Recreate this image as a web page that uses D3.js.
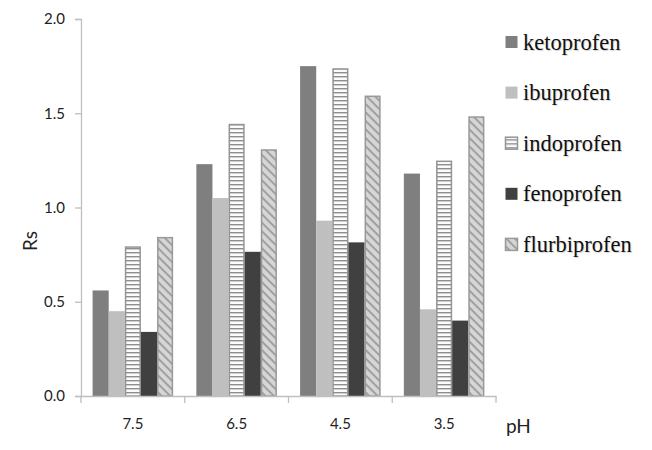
<!DOCTYPE html>
<html lang="en">
<head>
<meta charset="UTF-8">
<script src="https://cdn.jsdelivr.net/npm/d3@7"></script>
<title>Rs vs pH</title>
<style>
  body { margin: 0; background: #fff; }
  .legend-label { font-family: 'Liberation Serif', 'Times New Roman', serif; }
</style>
</head>
<body>
<svg width="652" height="450"></svg>
<script>
const svg = d3.select('svg')

// data
const phLabels = ['7.5', '6.5', '4.5', '3.5']
const seriesNames = ['ketoprofen', 'ibuprofen', 'indoprofen', 'fenoprofen', 'flurbiprofen']
const ketoprofen   = [0.56, 1.23, 1.75, 1.18]
const ibuprofen    = [0.45, 1.05, 0.93, 0.46]
const indoprofen   = [0.79, 1.44, 1.735, 1.245]
const fenoprofen   = [0.34, 0.765, 0.815, 0.40]
const flurbiprofen = [0.84, 1.305, 1.59, 1.48]
const yTicks = [0, 0.5, 1.0, 1.5, 2.0]

const values = [ketoprofen, ibuprofen, indoprofen, fenoprofen, flurbiprofen]

const plot = { left: 81, right: 496, top: 19, bottom: 396 }

// fills per series
const fills = ['#7f7f7f', '#bfbfbf', 'url(#hstripe)', '#404040', 'url(#dstripe)']
const strokes = ['none', 'none', '#949494', 'none', '#999999']

const defs = svg.append('defs')
const hp = defs.append('pattern').attr('id', 'hstripe')
    .attr('patternUnits', 'userSpaceOnUse').attr('width', 8).attr('height', 4)
hp.append('rect').attr('width', 8).attr('height', 4).attr('fill', '#fbfbfb')
hp.append('rect').attr('y', 0).attr('width', 8).attr('height', 1.4).attr('fill', '#8e8e8e')

const dp = defs.append('pattern').attr('id', 'dstripe')
    .attr('patternUnits', 'userSpaceOnUse').attr('width', 6).attr('height', 6)
    .attr('patternTransform', 'rotate(45)')
dp.append('rect').attr('width', 6).attr('height', 6).attr('fill', '#d6d6d6')
dp.append('rect').attr('y', 0).attr('width', 6).attr('height', 1.8).attr('fill', '#9a9a9a')

const x0 = d3.scaleBand().domain(phLabels).range([plot.left, plot.right])
const x1 = d3.scaleBand().domain(seriesNames).range([0, x0.bandwidth()])
    .paddingInner(0).paddingOuter(0.72)
const y = d3.scaleLinear().domain([0, 2]).range([plot.bottom, plot.top])

// bars
const groups = svg.append('g').selectAll('g')
    .data(phLabels)
    .join('g')
    .attr('transform', d => `translate(${x0(d)},0)`)

groups.selectAll('rect')
    .data((d, i) => seriesNames.map((s, j) => ({ s: s, j: j, v: values[j][i] })))
    .join('rect')
    .attr('x', d => x1(d.s) + (d.j == 2 || d.j == 4 ? 0.75 : 0))
    .attr('width', d => x1.bandwidth() - (d.j == 2 || d.j == 4 ? 1.5 : 0))
    .attr('y', d => y(d.v))
    .attr('height', d => y(0) - y(d.v))
    .attr('fill', d => fills[d.j])
    .attr('stroke', d => strokes[d.j])
    .attr('stroke-width', 1.5)

// y axis
const yAxis = svg.append('g')
    .attr('transform', `translate(${plot.left},0)`)
    .call(d3.axisLeft(y).tickValues(yTicks).tickFormat(d3.format('.1f')).tickSize(6).tickPadding(10))
yAxis.select('.domain').attr('stroke', '#bfbfbf').attr('stroke-width', 1.3)
yAxis.selectAll('.tick line').attr('stroke', '#bfbfbf').attr('stroke-width', 1.3)
yAxis.selectAll('.tick text')
    .attr('font-family', 'Lato, "Open Sans", sans-serif')
    .attr('font-size', 15).attr('fill', '#222')

// x axis
const xAxis = svg.append('g')
    .attr('transform', `translate(0,${plot.bottom})`)
    .call(d3.axisBottom(x0).tickSize(0).tickPadding(22))
xAxis.select('.domain').attr('stroke', '#bfbfbf').attr('stroke-width', 1.3)
xAxis.selectAll('.tick text')
    .attr('font-family', 'Lato, "Open Sans", sans-serif')
    .attr('font-size', 15).attr('fill', '#222')

// separators between the pH groups
svg.append('g').selectAll('line')
    .data(phLabels.map(d => x0(d)).concat([plot.right]))
    .join('line')
    .attr('x1', d => d).attr('x2', d => d)
    .attr('y1', plot.bottom).attr('y2', plot.bottom + 7)
    .attr('stroke', '#bfbfbf').attr('stroke-width', 1.3)

// axis titles
svg.append('text')
    .attr('transform', 'translate(37,241) rotate(-90)')
    .attr('text-anchor', 'middle')
    .attr('font-family', 'Lato, "Open Sans", sans-serif')
    .attr('font-size', 19).attr('fill', '#222')
    .text('Rs')

svg.append('text')
    .attr('x', 506).attr('y', 433)
    .attr('font-family', 'Lato, "Open Sans", sans-serif')
    .attr('font-size', 19).attr('fill', '#222')
    .text('pH')

// legend
const legend = svg.append('g').selectAll('g')
    .data(seriesNames)
    .join('g')
    .attr('transform', (d, i) => `translate(505,${42 + i * 50.6})`)

legend.append('rect')
    .attr('x', 0.5).attr('y', -6).attr('width', 12).attr('height', 12)
    .attr('fill', (d, i) => fills[i])
    .attr('stroke', (d, i) => strokes[i])
    .attr('stroke-width', 1.5)

legend.append('text')
    .attr('class', 'legend-label')
    .attr('x', 18).attr('y', 7.5)
    .attr('font-size', 22.5).attr('fill', '#111')
    .style('text-shadow', '1px 1px 1px rgba(0,0,0,0.18)')
    .text(d => d)
</script>
</body>
</html>
